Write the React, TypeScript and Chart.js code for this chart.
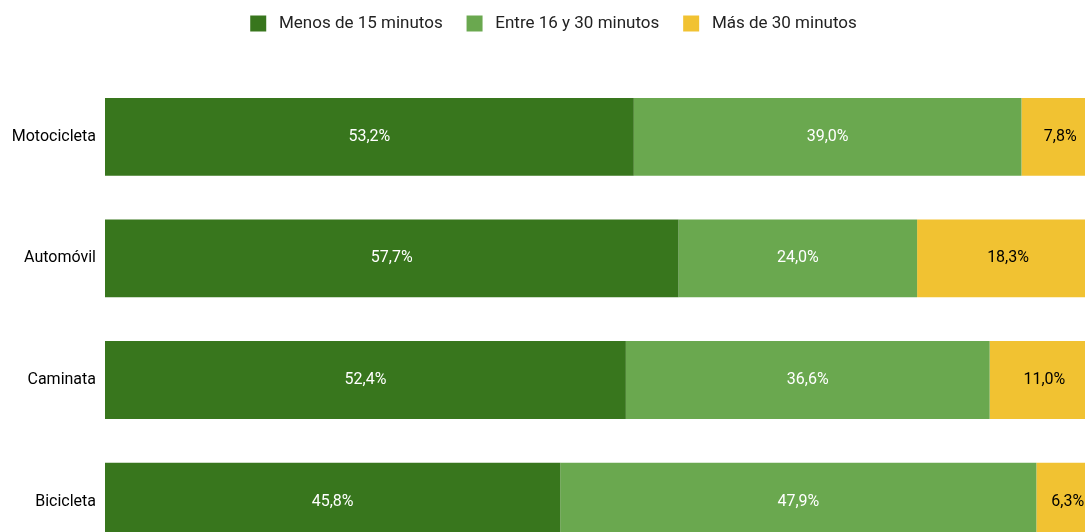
import React, { useEffect, useRef } from "react";
import { Chart, registerables } from "chart.js";

Chart.register(...registerables);

const categories = ["Motocicleta", "Automóvil", "Caminata", "Bicicleta"];
const seriesNames = ["Menos de 15 minutos", "Entre 16 y 30 minutos", "Más de 30 minutos"];
const menos15 = [53.2, 57.7, 52.4, 45.8];
const entre16y30 = [39.0, 24.0, 36.6, 47.9];
const mas30 = [7.8, 18.3, 11.0, 6.3];
const colors = ["#38761d", "#6aa84f", "#f1c232"];
const labelColors = ["#ffffff", "#ffffff", "#000000"];

const barLabels = {
  id: "barLabels",
  afterDatasetsDraw(chart: any) {
    const { ctx } = chart;
    ctx.save();
    ctx.font = "16px Roboto";
    ctx.textAlign = "center";
    ctx.textBaseline = "middle";
    chart.data.datasets.forEach((ds: any, i: number) => {
      const meta = chart.getDatasetMeta(i);
      meta.data.forEach((bar: any, j: number) => {
        const v = ds.data[j];
        const x = (bar.x + bar.base) / 2;
        ctx.fillStyle = labelColors[i];
        ctx.fillText(v.toFixed(1).replace(".", ",") + "%", x, bar.y);
      });
    });
    ctx.restore();
  },
};

const legendGap = {
  id: "legendGap",
  beforeInit(chart: any) {
    const legend = chart.legend;
    if (!legend) return;
    const orig = legend.fit;
    legend.fit = function () {
      orig.call(this);
      this.height += 34;
    };
  },
};

export default function App() {
  const ref = useRef<HTMLCanvasElement>(null);
  useEffect(() => {
    if (!ref.current) return;
    const chart = new Chart(ref.current, {
      type: "bar",
      data: {
        labels: categories,
        datasets: [menos15, entre16y30, mas30].map((d, i) => ({
          label: seriesNames[i],
          data: d,
          backgroundColor: colors[i],
          borderWidth: 0,
          barPercentage: 0.8,
          categoryPercentage: 0.8,
        })),
      },
      options: {
        indexAxis: "y",
        animation: false,
        responsive: true,
        maintainAspectRatio: false,
        layout: { padding: { top: 0, right: 1, left: 0, bottom: 0 } },
        plugins: {
          legend: {
            position: "top",
            labels: {
              boxWidth: 16,
              boxHeight: 16,
              padding: 7,
              color: "#222222",
              font: { family: "Roboto", size: 17 },
              generateLabels: (c: any) =>
                Chart.defaults.plugins.legend.labels
                  .generateLabels(c)
                  .map((l: any, i: number, arr: any[]) => ({
                    ...l,
                    text: " " + l.text + (i < arr.length - 1 ? "    " : ""),
                  })),
            },
          },
          tooltip: { enabled: false },
        },
        scales: {
          x: { stacked: true, display: false, min: 0, max: 100 },
          y: {
            stacked: true,
            grid: { display: false, drawTicks: false },
            border: { display: false },
            ticks: { color: "#000000", padding: 9, font: { family: "Roboto", size: 16 } },
            afterFit: (s: any) => {
              s.width = 97;
            },
          },
        },
      },
      plugins: [barLabels, legendGap],
    });
    return () => chart.destroy();
  }, []);
  return (
    <div style={{ position: "fixed", left: 0, top: 0, width: 1085, height: 532, overflow: "hidden" }}>
      <div style={{ position: "absolute", left: 8, top: 8, width: 1092, height: 573 }}>
        <canvas ref={ref} />
      </div>
    </div>
  );
}
